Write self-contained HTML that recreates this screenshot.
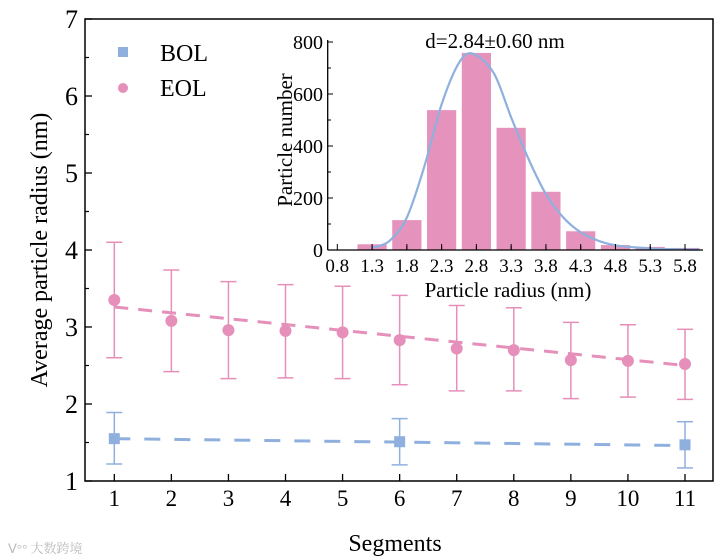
<!DOCTYPE html>
<html><head><meta charset="utf-8"><style>
body{margin:0;background:#fff}
svg{display:block;font-family:"Liberation Serif","Noto Serif CJK SC",serif}
</style></head><body>
<svg id="c" width="726" height="560"></svg>
<script>
const segments=[1,2,3,4,5,6,7,8,9,10,11];
const eolMean=[3.35,3.08,2.96,2.95,2.93,2.83,2.72,2.70,2.57,2.56,2.52];
const eolLow=[2.60,2.42,2.33,2.34,2.33,2.25,2.17,2.17,2.07,2.09,2.06];
const eolHigh=[4.10,3.74,3.59,3.55,3.53,3.41,3.28,3.25,3.06,3.03,2.97];
const eolFit=[3.26,2.50];
const bolSeg=[1,6,11];
const bolMean=[1.55,1.51,1.47];
const bolLow=[1.22,1.21,1.17];
const bolHigh=[1.89,1.81,1.77];
const bolFit=[1.55,1.46];
const yTicks=[1,2,3,4,5,6,7];
const binCenters=[0.8,1.3,1.8,2.3,2.8,3.3,3.8,4.3,4.8,5.3,5.8];
const binCounts=[0,22,115,538,758,470,224,72,19,12,8];
const curveX=[1.3,1.55,1.8,2.05,2.3,2.55,2.75,3.05,3.3,3.55,3.8,4.05,4.3,4.55,4.8,5.3,5.8,6.0];
const curveY=[8,35,125,320,560,720,755,680,510,350,215,125,68,36,18,6,2,1];
const histYTicks=[0,200,400,600,800];

const svg=document.getElementById('c');const NS='http://www.w3.org/2000/svg';
function mk(t,a,p){const e=document.createElementNS(NS,t);for(const k in a)e.setAttribute(k,a[k]);(p||svg).appendChild(e);return e;}
const PINK='#e58fba',BLUE='#8fb0de';
const X=v=>114.3+(v-1)*57.07, Y=v=>481-(v-1)*77;
const ax=mk('g',{});

mk('rect',{x:85,y:19,width:628,height:462,fill:'none',stroke:'#000','stroke-width':1.5},ax);
yTicks.forEach(v=>{const y=Y(v);mk('line',{x1:85,x2:92,y1:y,y2:y,stroke:'#000','stroke-width':1.3},ax);
 if(v<7){mk('line',{x1:85,x2:89,y1:y-38.5,y2:y-38.5,stroke:'#000','stroke-width':1.2},ax);}
 const t=mk('text',{x:78,y:y+9,'text-anchor':'end','font-size':26},ax);t.textContent=v;
 });
segments.forEach(v=>{const x=X(v);mk('line',{x1:x,x2:x,y1:481,y2:474,stroke:'#000','stroke-width':1.3},ax);
 const t=mk('text',{x:x,y:506,'text-anchor':'middle','font-size':23},ax);t.textContent=v;
 });
let t=mk('text',{x:395,y:551,'text-anchor':'middle','font-size':24});t.textContent='Segments';

t=mk('text',{x:0,y:0,'text-anchor':'middle','font-size':24,transform:'translate(47,250) rotate(-90)'});t.textContent='Average particle radius (nm)';

let l=mk('line',{x1:X(1),x2:X(11),y1:Y(eolFit[0]),y2:Y(eolFit[1]),stroke:PINK,'stroke-width':3,'stroke-dasharray':'14 10'});

l=mk('line',{x1:X(1),x2:X(11),y1:Y(bolFit[0]),y2:Y(bolFit[1]),stroke:BLUE,'stroke-width':3,'stroke-dasharray':'16 14'});

function err(x,lo,hi,c,name){const g=mk('g',{stroke:c,'stroke-width':1.5});
 
 mk('line',{x1:x,x2:x,y1:Y(lo),y2:Y(hi)},g);mk('line',{x1:x-8,x2:x+8,y1:Y(lo),y2:Y(lo)},g);mk('line',{x1:x-8,x2:x+8,y1:Y(hi),y2:Y(hi)},g);}
segments.forEach((s,i)=>{err(X(s),eolLow[i],eolHigh[i],PINK,'eol-error-bar');
 const c=mk('circle',{cx:X(s),cy:Y(eolMean[i]),r:6,fill:PINK});
 });
bolSeg.forEach((s,i)=>{err(X(s),bolLow[i],bolHigh[i],BLUE,'bol-error-bar');
 const r=mk('rect',{x:X(s)-5.5,y:Y(bolMean[i])-5.5,width:11,height:11,fill:BLUE});
 });
const lg=mk('g',{});
mk('rect',{x:118,y:47,width:10,height:10,fill:BLUE},lg);
t=mk('text',{x:160,y:61,'font-size':24},lg);t.textContent='BOL';
mk('circle',{cx:123,cy:88,r:5,fill:PINK},lg);
t=mk('text',{x:160,y:96,'font-size':24},lg);t.textContent='EOL';
// inset
const HX=v=>337.3+(v-0.8)*69.54, HY=v=>250-v*0.26;
const ins=mk('g',{});
binCenters.forEach((c,i)=>{const w=0.42*69.54;const x0=Math.max(HX(c)-w/2,327.7),x1=Math.min(HX(c)+w/2,702.7);
 if(binCounts[i]<=0)return;
 const r=mk('rect',{x:x0,y:HY(binCounts[i]),width:x1-x0,height:250-HY(binCounts[i]),fill:'#e593bd'},ins);
 });
const P=curveX.map((v,i)=>[Math.min(HX(v),702),HY(curveY[i])]);
let d='M'+P[0][0]+','+P[0][1];
for(let i=0;i<P.length-1;i++){const p0=P[Math.max(i-1,0)],p1=P[i],p2=P[i+1],p3=P[Math.min(i+2,P.length-1)];
 d+='C'+(p1[0]+(p2[0]-p0[0])/6)+','+(p1[1]+(p2[1]-p0[1])/6)+' '+(p2[0]-(p3[0]-p1[0])/6)+','+(p2[1]-(p3[1]-p1[1])/6)+' '+p2[0]+','+p2[1];}
const cp=mk('path',{d:d,fill:'none',stroke:'#8fb0de','stroke-width':2.2},ins);

mk('line',{x1:327.7,x2:327.7,y1:40,y2:250,stroke:'#000','stroke-width':1.3},ins);
mk('line',{x1:327.7,x2:703,y1:250,y2:250,stroke:'#000','stroke-width':1.3},ins);
histYTicks.forEach(v=>{const y=HY(v);mk('line',{x1:327.7,x2:333,y1:y,y2:y,stroke:'#000'},ins);
 if(v<800)mk('line',{x1:327.7,x2:331,y1:y-26,y2:y-26,stroke:'#000'},ins);
 const tt=mk('text',{x:323,y:y+7,'text-anchor':'end','font-size':20},ins);tt.textContent=v;
 });
binCenters.forEach((c,i)=>{const x=HX(c);mk('line',{x1:x,x2:x,y1:250,y2:244,stroke:'#000'},ins);
 if(i<binCenters.length-1)mk('line',{x1:x+34.8,x2:x+34.8,y1:250,y2:246,stroke:'#000'},ins);
 const tt=mk('text',{x:x,y:272,'text-anchor':'middle','font-size':19},ins);tt.textContent=c.toFixed(1);
 });
t=mk('text',{x:508,y:297,'text-anchor':'middle','font-size':21},ins);t.textContent='Particle radius (nm)';

t=mk('text',{x:0,y:0,'text-anchor':'middle','font-size':21,transform:'translate(292,140) rotate(-90)'},ins);t.textContent='Particle number';

t=mk('text',{x:495,y:48,'text-anchor':'middle','font-size':21},ins);t.textContent='d=2.84±0.60 nm';

t=mk('text',{x:8,y:553,'font-size':13,fill:'#bbb'});t.textContent='ᐯ°° 大数跨境';

</script>
</body></html>
